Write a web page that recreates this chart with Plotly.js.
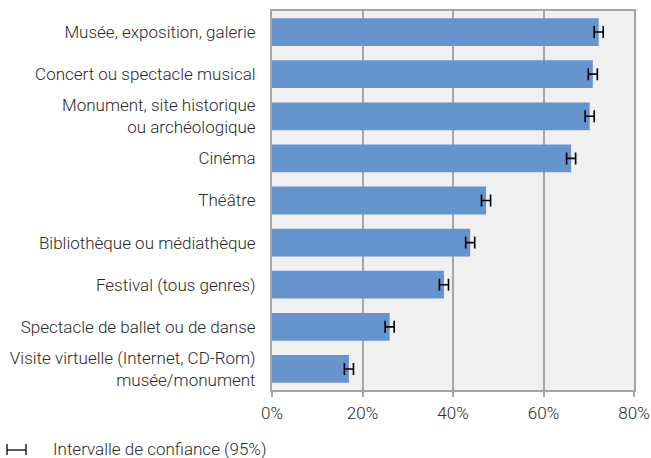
<!DOCTYPE html>
<html><head><meta charset="utf-8">
<script src="https://cdn.plot.ly/plotly-3.0.1.min.js"></script>
<style>body{margin:0;padding:0;background:#fff}#chart{width:651px;height:458px}</style>
</head><body><div id="chart"></div>
<script>
const categories = [
  "Musée, exposition, galerie",
  "Concert ou spectacle musical",
  "Monument, site historique<br>ou archéologique",
  "Cinéma",
  "Théâtre",
  "Bibliothèque ou médiathèque",
  "Festival (tous genres)",
  "Spectacle de ballet ou de danse",
  "Visite virtuelle (Internet, CD-Rom)<br>musée/monument"
];
const values = [72.2, 70.9, 70.2, 66.1, 47.3, 43.8, 38.0, 26.0, 17.0];
const ciHalf = [1.0, 1.0, 1.0, 1.0, 1.0, 1.0, 1.0, 1.0, 1.0];
const xTicks = [0, 20, 40, 60, 80];
const xTickLabels = ["0%", "20%", "40%", "60%", "80%"];
const legendText = "Intervalle de confiance (95%)";

const font = {family: "Roboto, 'Noto Sans', sans-serif", size: 17, color: "#2a2a2a", weight: 300};
const gridColor = "#a6a6a6";

const W = 651, H = 458, L = 272, R = 17, T = 11, B = 68;
const pw = W - L - R, ph = H - T - B;
function px(x){ return (x - L) / pw; }
function py(y){ return (H - B - y) / ph; }

const trace = {
  type: "bar", orientation: "h",
  y: categories, x: values,
  marker: {color: "#6794cd"},
  error_x: {type: "data", array: ciHalf, visible: true, color: "#000", thickness: 1.6, width: 6},
  hoverinfo: "none"
};

const ly = 450;
const layout = {
  width: W, height: H,
  margin: {l: L, r: R, t: T, b: B},
  paper_bgcolor: "#fff", plot_bgcolor: "#f0f0f0",
  font: font,
  bargap: 0.34,
  showlegend: false,
  xaxis: {
    range: [0, 80], tickvals: xTicks, ticktext: xTickLabels,
    showgrid: true, gridcolor: gridColor, gridwidth: 2,
    showline: true, linecolor: gridColor, linewidth: 2, mirror: true,
    ticks: "outside", ticklen: 5, tickcolor: gridColor, tickwidth: 2,
    ticklabelstandoff: 2,
    zeroline: false, fixedrange: true, tickfont: font
  },
  yaxis: {
    autorange: "reversed", type: "category",
    showgrid: false, showline: true, linecolor: gridColor, linewidth: 2, mirror: true,
    ticks: "", ticklabelstandoff: 11, tickfont: font, fixedrange: true
  },
  shapes: [
    {type: "line", xref: "paper", yref: "paper", x0: px(7), x1: px(26), y0: py(ly), y1: py(ly), line: {color: "#000", width: 1.3}},
    {type: "line", xref: "paper", yref: "paper", x0: px(7), x1: px(7), y0: py(ly-6), y1: py(ly+5), line: {color: "#000", width: 1.3}},
    {type: "line", xref: "paper", yref: "paper", x0: px(26), x1: px(26), y0: py(ly-6), y1: py(ly+5), line: {color: "#000", width: 1.3}}
  ],
  annotations: [
    {xref: "paper", yref: "paper", x: px(52), y: py(449), xanchor: "left", yanchor: "middle",
     text: legendText, showarrow: false, font: font, borderpad: 0}
  ]
};
Plotly.newPlot("chart", [trace], layout, {displayModeBar: false, staticPlot: true});
</script></body></html>
